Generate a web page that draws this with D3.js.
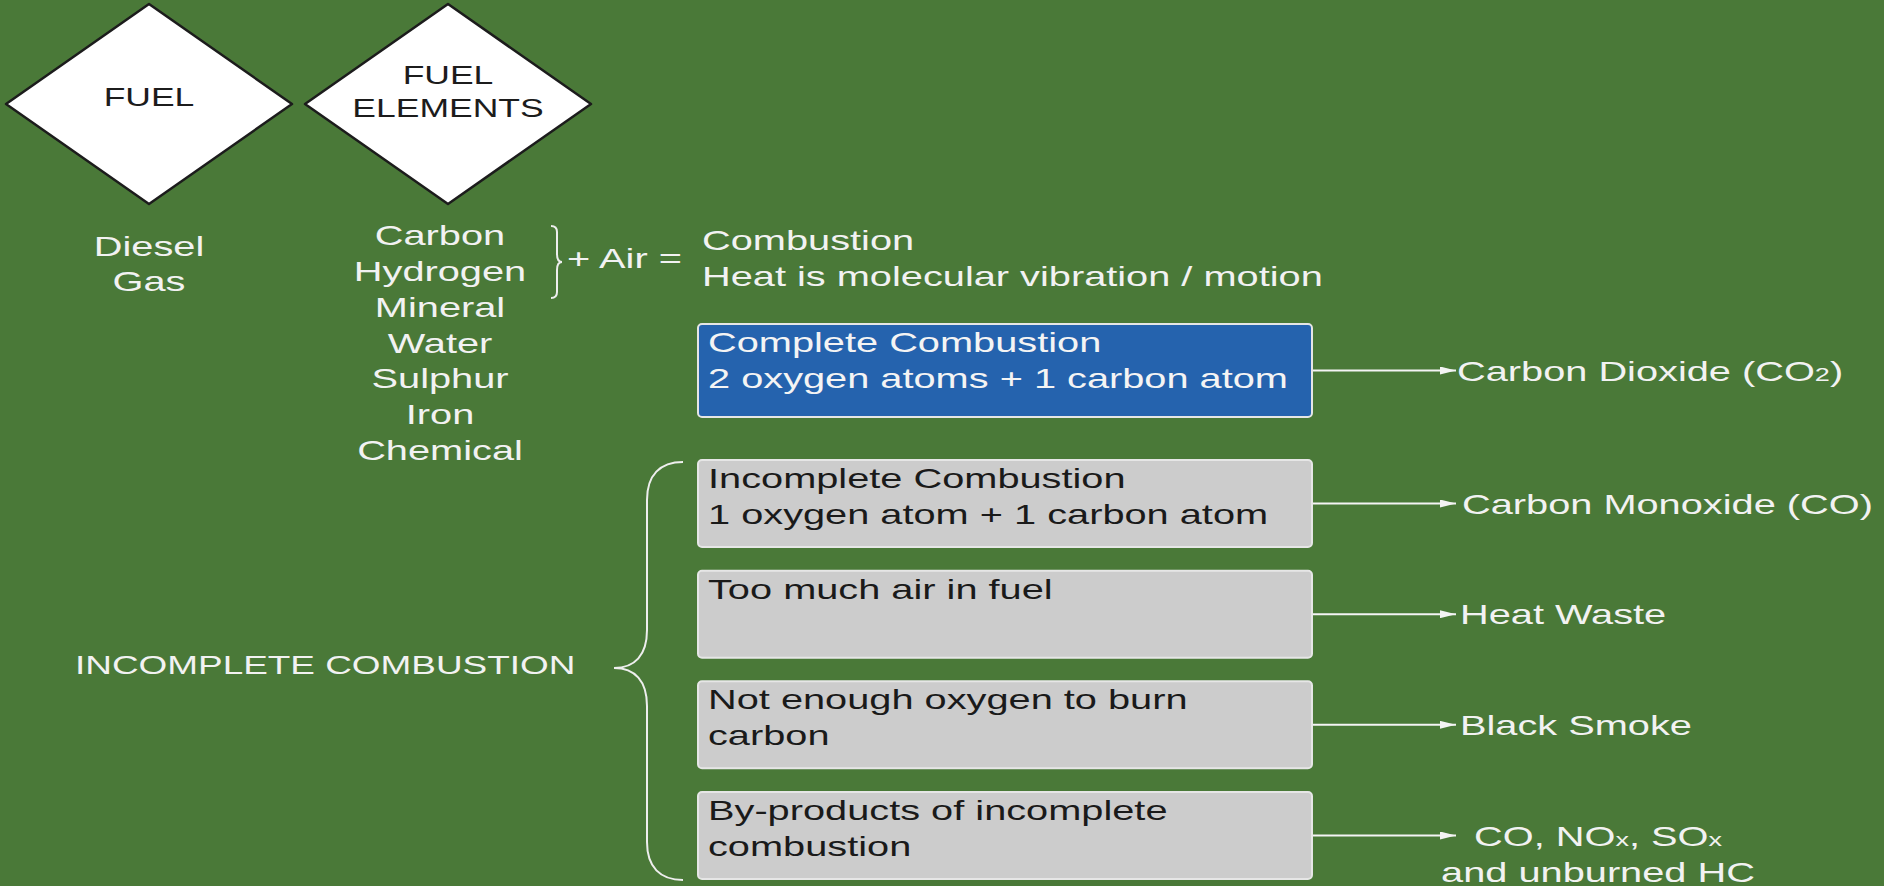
<!DOCTYPE html>
<html>
<head>
<meta charset="utf-8">
<script src="https://cdn.jsdelivr.net/npm/d3@7"></script>
<style>
  body { margin: 0; background: #4a7938; overflow: hidden; }
  svg { display: block; }
  text { font-family: 'Liberation Sans', Arial, sans-serif; }
</style>
</head>
<body>
<div class="container"></div>
<script>
// diagram content
let diamondLabels = [['FUEL'], ['FUEL', 'ELEMENTS']];
let fuels = ['Diesel', 'Gas'];
let elements = ['Carbon', 'Hydrogen', 'Mineral', 'Water', 'Sulphur', 'Iron', 'Chemical'];
let airText = '+ Air =';
let combustion = ['Combustion', 'Heat is molecular vibration / motion'];
let completeBox = ['Complete Combustion', '2 oxygen atoms + 1 carbon atom'];
let incompleteBoxes = [
  ['Incomplete Combustion', '1 oxygen atom + 1 carbon atom'],
  ['Too much air in fuel'],
  ['Not enough oxygen to burn', 'carbon'],
  ['By-products of incomplete', 'combustion']
];
let results = [
  ['Carbon Dioxide (CO_2)'],
  ['Carbon Monoxide (CO)'],
  ['Heat Waste'],
  ['Black Smoke'],
  ['CO, NO_x, SO_x', 'and unburned HC']
];
let groupLabel = 'INCOMPLETE COMBUSTION';

let width = 1884;
let height = 886;
let SX = 1.42; // the picture is stretched sideways
let lineH = 36;

let svg = d3
  .select('.container')
  .append('svg')
  .attr('width', width)
  .attr('height', height);

svg.append('rect').attr('width', width).attr('height', height).attr('fill', '#4a7938');

svg
  .append('defs')
  .append('marker')
  .attr('id', 'head')
  .attr('markerUnits', 'userSpaceOnUse')
  .attr('viewBox', '0 0 16 8')
  .attr('refX', 16)
  .attr('refY', 4)
  .attr('markerWidth', 16)
  .attr('markerHeight', 8)
  .attr('orient', 'auto')
  .append('path')
  .attr('d', 'M0,0 L16,4 L0,8 Z')
  .attr('fill', '#f4f4f4');

// write a label with the sideways stretch, handling _x subscripts
function label(g, str, x, y, size, color, anchor) {
  let t = g
    .append('text')
    .attr('transform', `translate(${x},${y}) scale(${SX},1)`)
    .attr('font-size', size)
    .attr('fill', color)
    .attr('text-anchor', anchor || 'start');
  str.split(/(_\w)/).forEach((part) => {
    if (part.startsWith('_')) {
      t.append('tspan').attr('font-size', size * 0.68).text(part.slice(1));
    } else if (part) {
      t.append('tspan').text(part);
    }
  });
  return t;
}

// diamonds
let diamondX = d3.scalePoint().domain(d3.range(diamondLabels.length)).range([149, 448]);
let diamondCy = 104;
diamondLabels.forEach((lines, i) => {
  let cx = diamondX(i);
  let g = svg.append('g');
  g.append('path')
    .attr('d', `M${cx},${diamondCy - 100} L${cx + 143},${diamondCy} L${cx},${diamondCy + 100} L${cx - 143},${diamondCy} Z`)
    .attr('fill', '#ffffff')
    .attr('stroke', '#1c1c1c')
    .attr('stroke-width', 2.5)
    .attr('stroke-linejoin', 'round');
  let first = lines.length === 1 ? 106 : 84;
  lines.forEach((l, j) => label(g, l, cx, first + j * 33, 25, '#1c1c1c', 'middle'));
});

// fuels and elements columns
let fuelY = d3.scalePoint().domain(fuels).range([256, 291]);
fuels.forEach((f) => label(svg, f, 149, fuelY(f), 28, '#f2f2f2', 'middle'));

let elemY = d3.scalePoint().domain(elements).range([245, 460]);
elements.forEach((e) => label(svg, e, 440, elemY(e), 28, '#f2f2f2', 'middle'));

// small brace on carbon + hydrogen
svg
  .append('path')
  .attr('d', 'M551,226 q6,0 6,6 v22 q0,8 5,8 q-5,0 -5,8 v22 q0,6 -6,6')
  .attr('fill', 'none')
  .attr('stroke', '#eeeeee')
  .attr('stroke-width', 2);
label(svg, airText, 567, 268, 28, '#f2f2f2');

combustion.forEach((c, i) => label(svg, c, 702, 250 + i * lineH, 28, '#f2f2f2'));

// boxes
let boxX = 698;
let boxW = 614;
let boxes = [{ lines: completeBox, top: 324, h: 93, fill: '#2563ae', color: '#f4f4f4' }];
let rowY = d3.scaleLinear().domain([0, incompleteBoxes.length - 1]).range([460, 792]);
incompleteBoxes.forEach((lines, i) => {
  boxes.push({ lines: lines, top: rowY(i), h: 87, fill: '#cccccc', color: '#1a1a1a' });
});
let resultX = [1457, 1462, 1460, 1460];

boxes.forEach((b, i) => {
  let g = svg.append('g');
  g.append('rect')
    .attr('x', boxX)
    .attr('y', b.top)
    .attr('width', boxW)
    .attr('height', b.h)
    .attr('rx', 4)
    .attr('fill', b.fill)
    .attr('stroke', '#e6e6e6')
    .attr('stroke-width', 2);
  b.lines.forEach((l, j) => label(g, l, boxX + 10, b.top + 28 + j * lineH, 28, b.color));

  let cy = b.top + b.h / 2;
  g.append('line')
    .attr('x1', boxX + boxW + 1)
    .attr('x2', 1456)
    .attr('y1', cy)
    .attr('y2', cy)
    .attr('stroke', '#f4f4f4')
    .attr('stroke-width', 2)
    .attr('marker-end', 'url(#head)');

  let res = results[i];
  if (res.length === 1) {
    label(g, res[0], resultX[i], cy + 10, 28, '#f2f2f2');
  } else {
    res.forEach((r, j) => label(g, r, 1598, cy + 10 + j * lineH, 28, '#f2f2f2', 'middle'));
  }
});

// big brace grouping the incomplete boxes
svg
  .append('path')
  .attr('d', 'M683,462 C660,462 647,475 647,500 V630 C647,655 635,668 614,668 C635,668 647,681 647,706 V842 C647,867 660,880 683,880')
  .attr('fill', 'none')
  .attr('stroke', '#eeeeee')
  .attr('stroke-width', 2);
label(svg, groupLabel, 75, 674, 26, '#f2f2f2');
</script>
</body>
</html>
